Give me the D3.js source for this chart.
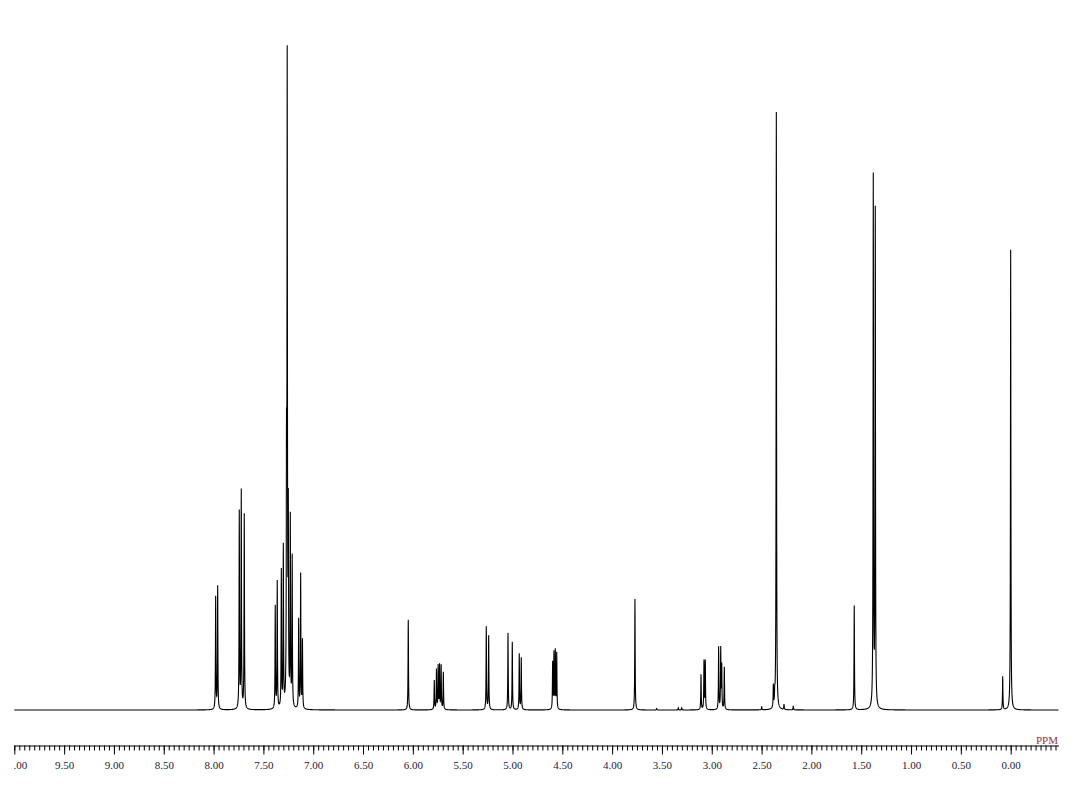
<!DOCTYPE html>
<html>
<head>
<meta charset="utf-8">
<script src="https://cdn.jsdelivr.net/npm/d3@7"></script>
<style>
  body { margin: 0; background: #fff; }
  svg { display: block; }
  .tick text { font-family: "Liberation Serif", "DejaVu Serif", serif; font-size: 11px; fill: #1a1a3a; }
</style>
</head>
<body>
<script>
// peak list (ppm, relative height, CDCl3 = 100)
var peakPpm = [7.979, 7.959, 7.742, 7.722, 7.692,
  7.381, 7.361, 7.320, 7.300, 7.268, 7.261, 7.250, 7.230, 7.211, 7.146, 7.126, 7.108,
  6.046, 5.785, 5.763, 5.746, 5.732, 5.716, 5.694,
  5.263, 5.239, 5.045, 5.002, 4.932, 4.912,
  4.597, 4.584, 4.570, 4.556, 3.771, 3.553, 3.336, 3.302,
  3.108, 3.078, 3.065, 2.931, 2.910, 2.900, 2.874,
  2.499, 2.382, 2.368, 2.352, 2.275, 2.182,
  1.570, 1.379, 1.359, 0.080, 0.000];
var peakHeight = [16.9, 18.5, 29.6, 32.7, 29.3,
  15.4, 19.1, 20.6, 24.1, 34.0, 94.5, 27.5, 28.2, 22.6, 13.4, 20.2, 10.3,
  13.6, 4.4, 6.0, 6.5, 6.6, 6.6, 5.6,
  12.5, 11.1, 11.6, 10.2, 8.4, 7.8,
  7.0, 8.4, 8.7, 8.4, 16.7, 0.2, 0.3, 0.3,
  5.3, 7.3, 7.3, 9.4, 9.1, 6.5, 6.4,
  0.5, 3.3, 1.6, 90.0, 0.8, 0.6,
  15.7, 79.8, 74.7, 5.0, 69.3];
var majorTicks = [10, 9.5, 9, 8.5, 8, 7.5, 7, 6.5, 6, 5.5, 5, 4.5, 4, 3.5, 3, 2.5, 2, 1.5, 1, 0.5, 0];
var axisLabel = "PPM";

var width = 1078, height = 785;
var lineWidthPpm = 0.0025;

var x = d3.scaleLinear().domain([10, -0.48]).range([14.3, 1058.5]);
var y = d3.scaleLinear().domain([0, 100]).range([710, 46]);

var svg = d3.select("body").append("svg")
  .attr("width", width)
  .attr("height", height);

// sample points: fine grid plus every peak centre
var pts = d3.range(0, 10481).map(function(i) { return 10 - i * 0.001; }).concat(peakPpm);
pts.sort(function(a, b) { return b - a; });

var trace = pts.map(function(p) {
  var s = 0;
  for (var k = 0; k < peakPpm.length; k++) {
    var d = (p - peakPpm[k]) / lineWidthPpm;
    s += peakHeight[k] / (1 + d * d);
  }
  return [p, s];
});

svg.append("path")
  .datum(trace)
  .attr("fill", "none")
  .attr("stroke", "#000")
  .attr("stroke-width", 1.1)
  .attr("d", d3.line().x(function(d) { return x(d[0]); }).y(function(d) { return y(d[1]); }));

// axis
svg.append("clipPath").attr("id", "axclip")
  .append("rect").attr("x", 14).attr("y", 700).attr("width", 1064).attr("height", 85);

var minor = svg.append("g")
  .attr("transform", "translate(0,745.5)")
  .call(d3.axisBottom(x)
    .tickValues(d3.range(0, 210).map(function(i) { return 10 - i * 0.05; }))
    .tickSize(5).tickSizeOuter(0).tickFormat(""));
minor.select(".domain").attr("stroke", "#000");

var major = svg.append("g")
  .attr("clip-path", "url(#axclip)")
  .append("g")
  .attr("transform", "translate(0,745.5)")
  .call(d3.axisBottom(x)
    .tickValues(majorTicks)
    .tickSize(9).tickSizeOuter(0).tickPadding(7)
    .tickFormat(d3.format(".2f")));
major.select(".domain").remove();

svg.append("text")
  .attr("x", 1058)
  .attr("y", 744)
  .attr("text-anchor", "end")
  .style("font-family", "'Liberation Serif', 'DejaVu Serif', serif")
  .style("font-size", "11px")
  .style("fill", "#993333")
  .text(axisLabel);
</script>
</body>
</html>
